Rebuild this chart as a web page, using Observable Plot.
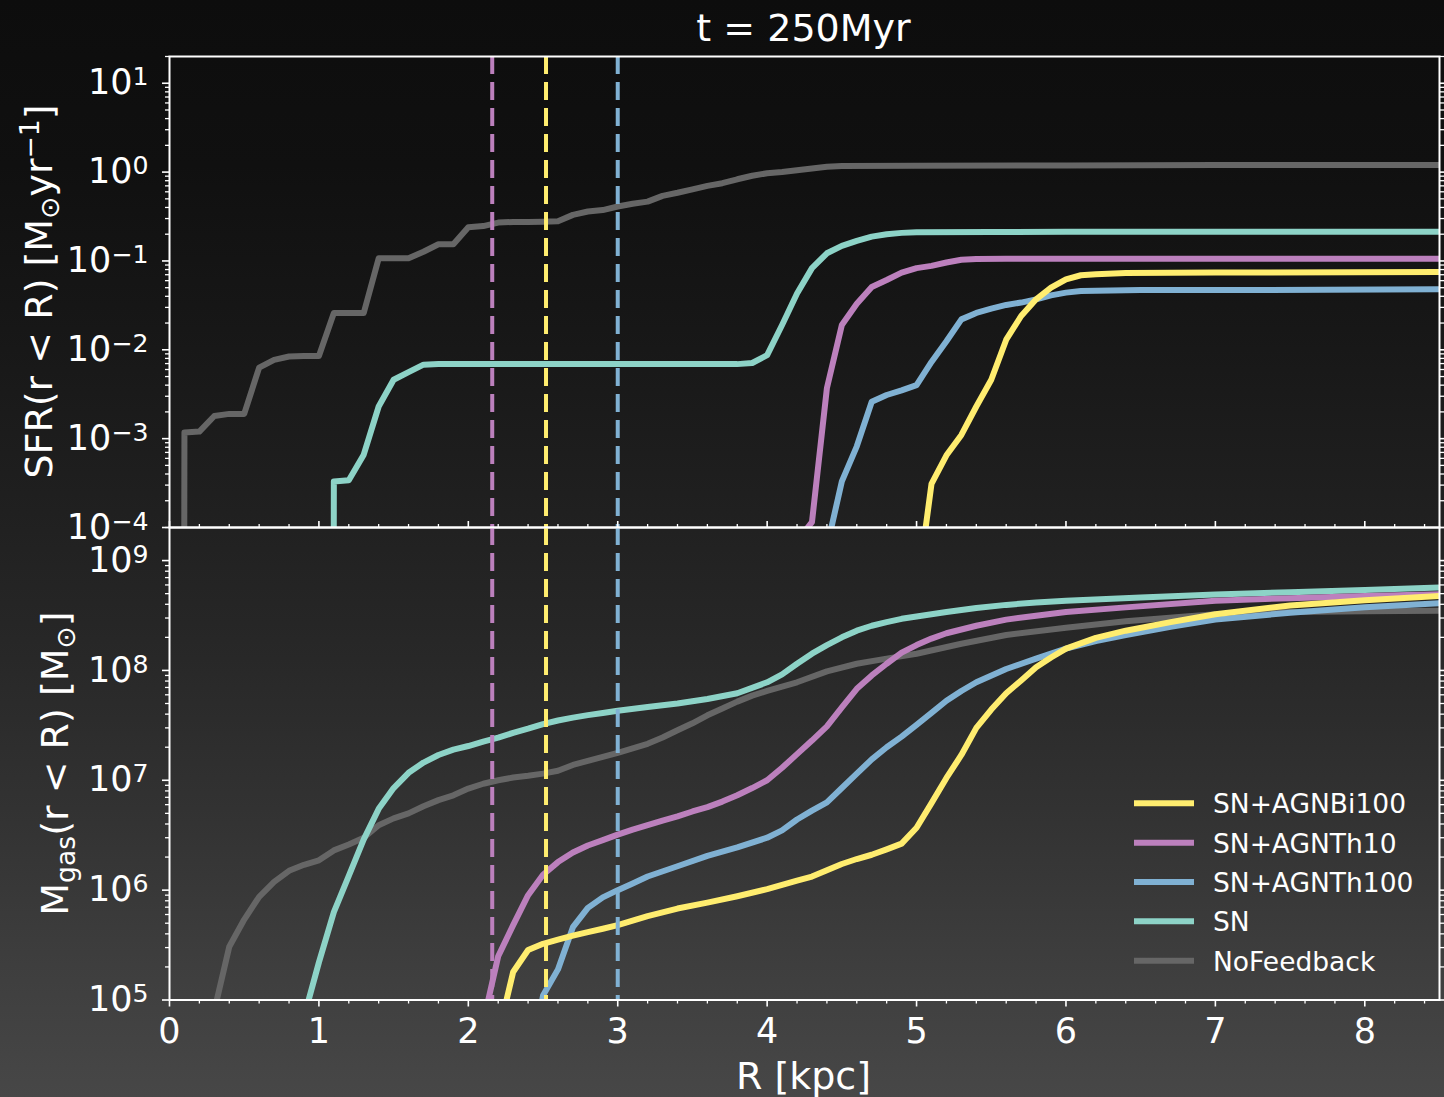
<!DOCTYPE html>
<html>
<head>
<meta charset="utf-8">
<script src="https://cdn.jsdelivr.net/npm/d3@7"></script>
<script src="https://cdn.jsdelivr.net/npm/@observablehq/plot@0.6"></script>
<style>
  html, body { margin:0; padding:0; background:#0d0d0d; }
  #fig { position:relative; width:1444px; height:1097px; overflow:hidden;
    background: linear-gradient(to bottom, #0d0d0d 0%, #101010 15%, #171717 30%, #1f1f1f 45%, #282828 60%, #333333 75%, #3e3e3e 88%, #474747 100%);
    font-family: "DejaVu Sans", sans-serif; }
  .layer { position:absolute; left:0; }
</style>
</head>
<body>
<div id="fig">
  <div id="top" class="layer" style="top:0px;width:1444px"></div>
  <div id="bot" class="layer" style="top:500px;width:1444px"></div>
  <svg id="ov" class="layer" style="top:0px" width="1444" height="1097"></svg>
</div>
<script>
// ---------------- DATA ----------------
const seriesNames  = ["NoFeedback", "SN", "SN+AGNTh100", "SN+AGNTh10", "SN+AGNBi100"];
const seriesColors = ["#666666", "#8dd3c7", "#80b1d3", "#bc80bd", "#ffed6f"];
const legendOrder  = ["SN+AGNBi100", "SN+AGNTh10", "SN+AGNTh100", "SN", "NoFeedback"];
const titleText = "t = 250Myr";

// SFR(r<R) [Msun/yr]  (0 = nothing inside radius)
const sfrR_NoFeedback = [0.0,0.1,0.2,0.3,0.4,0.5,0.6,0.7,0.8,0.9,1.0,1.1,1.2,1.3,1.4,1.5,1.6,1.7,1.8,1.9,2.0,2.1,2.2,2.3,2.4,2.5,2.6,2.7,2.8,2.9,3.0,3.1,3.2,3.3,3.4,3.5,3.6,3.7,3.8,3.9,4.0,4.1,4.2,4.3,4.4,4.5,5.0,6.0,7.0,8.5];
const sfr_NoFeedback  = [0,1.17e-3,1.2e-3,1.8e-3,1.9e-3,1.9e-3,6.3e-3,7.7e-3,8.4e-3,8.5e-3,8.5e-3,0.026,0.026,0.026,0.107,0.107,0.107,0.127,0.154,0.154,0.24,0.247,0.27,0.275,0.275,0.277,0.28,0.33,0.36,0.374,0.41,0.44,0.465,0.54,0.585,0.64,0.70,0.75,0.83,0.91,0.97,1.0,1.05,1.1,1.15,1.17,1.18,1.19,1.2,1.2];
const sfrR_SN = [1.0,1.1,1.2,1.3,1.4,1.5,1.6,1.7,1.8,2.5,3.0,3.5,3.8,3.9,4.0,4.1,4.2,4.3,4.4,4.5,4.6,4.7,4.8,4.9,5.0,5.5,6.0,8.5];
const sfr_SN  = [0,3.3e-4,3.4e-4,6.6e-4,2.3e-3,4.6e-3,5.6e-3,6.8e-3,6.9e-3,6.9e-3,6.9e-3,6.9e-3,6.9e-3,7.1e-3,8.7e-3,0.019,0.043,0.083,0.122,0.148,0.168,0.188,0.2,0.207,0.21,0.212,0.213,0.213];
const sfrR_Th100 = [4.4,4.5,4.6,4.7,4.8,4.9,5.0,5.1,5.2,5.3,5.4,5.5,5.6,5.7,5.8,5.9,6.0,6.1,6.5,7.0,8.5];
const sfr_Th100  = [6e-5,3.3e-4,8.2e-4,2.6e-3,3.1e-3,3.5e-3,4.0e-3,7.3e-3,0.0125,0.022,0.026,0.029,0.032,0.034,0.037,0.041,0.044,0.046,0.047,0.047,0.048];
const sfrR_Th10 = [4.2,4.3,4.4,4.5,4.6,4.7,4.8,4.9,5.0,5.1,5.2,5.3,5.4,5.6,6.0,8.5];
const sfr_Th10  = [7e-5,1.15e-4,3.7e-3,0.019,0.033,0.051,0.061,0.074,0.083,0.088,0.096,0.103,0.105,0.106,0.106,0.106];
const sfrR_Bi100 = [5.0,5.1,5.2,5.3,5.4,5.5,5.6,5.7,5.8,5.9,6.0,6.1,6.2,6.4,7.0,8.5];
const sfr_Bi100  = [1.7e-5,3.1e-4,6.5e-4,1.1e-3,2.3e-3,4.6e-3,0.013,0.024,0.037,0.05,0.062,0.069,0.071,0.073,0.074,0.075];

// Mgas(r<R) [Msun]
const gasR_NoFeedback = [0.3,0.4,0.5,0.6,0.7,0.8,0.9,1.0,1.1,1.2,1.3,1.4,1.5,1.6,1.7,1.8,1.9,2.0,2.1,2.2,2.3,2.4,2.5,2.6,2.7,2.8,2.9,3.0,3.1,3.2,3.3,3.4,3.5,3.6,3.7,3.8,3.9,4.0,4.2,4.4,4.6,4.8,5.0,5.3,5.6,6.0,6.4,6.8,7.0,7.5,8.0,8.5];
const gas_NoFeedback  = [8e4,3.05e5,5.4e5,8.7e5,1.19e6,1.5e6,1.7e6,1.87e6,2.3e6,2.6e6,3.0e6,3.9e6,4.5e6,5.0e6,5.8e6,6.6e6,7.3e6,8.4e6,9.3e6,1.0e7,1.06e7,1.1e7,1.15e7,1.22e7,1.38e7,1.5e7,1.63e7,1.78e7,1.95e7,2.15e7,2.45e7,2.85e7,3.3e7,3.9e7,4.5e7,5.2e7,5.9e7,6.5e7,7.8e7,9.8e7,1.15e8,1.28e8,1.42e8,1.75e8,2.1e8,2.45e8,2.8e8,3.1e8,3.25e8,3.4e8,3.45e8,3.5e8];
const gasR_SN = [0.9,1.0,1.1,1.2,1.3,1.4,1.5,1.6,1.7,1.8,1.9,2.0,2.1,2.2,2.3,2.4,2.5,2.6,2.7,2.8,2.9,3.0,3.2,3.4,3.6,3.8,4.0,4.1,4.2,4.3,4.4,4.5,4.6,4.7,4.8,4.9,5.0,5.2,5.4,5.6,5.8,6.0,6.5,7.0,7.5,8.0,8.5];
const gas_SN  = [7e4,2.2e5,6.3e5,1.35e6,2.9e6,5.5e6,8.5e6,1.17e7,1.45e7,1.7e7,1.9e7,2.05e7,2.25e7,2.45e7,2.7e7,2.95e7,3.25e7,3.5e7,3.72e7,3.92e7,4.1e7,4.3e7,4.65e7,5.0e7,5.5e7,6.2e7,7.8e7,9.2e7,1.15e8,1.42e8,1.7e8,2.0e8,2.3e8,2.55e8,2.75e8,2.95e8,3.1e8,3.4e8,3.7e8,3.95e8,4.15e8,4.3e8,4.6e8,4.9e8,5.15e8,5.4e8,5.7e8];
const gasR_Th100 = [2.4,2.5,2.6,2.7,2.8,2.9,3.0,3.1,3.2,3.4,3.6,3.8,4.0,4.1,4.2,4.3,4.4,4.5,4.6,4.7,4.8,4.9,5.0,5.1,5.2,5.3,5.4,5.6,5.8,6.0,6.2,6.4,6.7,7.0,7.5,8.0,8.5];
const gas_Th100  = [2e4,1.1e5,1.9e5,4.6e5,6.9e5,8.6e5,1.0e6,1.15e6,1.33e6,1.65e6,2.05e6,2.45e6,3.0e6,3.5e6,4.4e6,5.3e6,6.3e6,8.5e6,1.15e7,1.55e7,2.0e7,2.5e7,3.2e7,4.1e7,5.3e7,6.5e7,7.8e7,1.03e8,1.28e8,1.58e8,1.85e8,2.1e8,2.5e8,2.9e8,3.35e8,3.75e8,4.1e8];
const gasR_Th10 = [2.1,2.2,2.3,2.4,2.5,2.6,2.7,2.8,2.9,3.0,3.1,3.2,3.3,3.4,3.5,3.6,3.7,3.8,3.9,4.0,4.1,4.2,4.3,4.4,4.5,4.6,4.7,4.8,4.9,5.0,5.1,5.2,5.4,5.6,5.8,6.0,6.4,7.0,7.5,8.0,8.5];
const gas_Th10  = [6.3e4,2.5e5,4.8e5,9.0e5,1.38e6,1.8e6,2.2e6,2.55e6,2.85e6,3.2e6,3.55e6,3.9e6,4.3e6,4.7e6,5.2e6,5.7e6,6.4e6,7.3e6,8.5e6,1.0e7,1.3e7,1.73e7,2.3e7,3.1e7,4.6e7,6.8e7,9.0e7,1.15e8,1.45e8,1.7e8,1.95e8,2.18e8,2.55e8,2.9e8,3.15e8,3.4e8,3.75e8,4.3e8,4.55e8,4.75e8,4.95e8];
const gasR_Bi100 = [2.2,2.3,2.4,2.5,2.6,2.7,2.8,2.9,3.0,3.2,3.4,3.6,3.8,4.0,4.2,4.3,4.4,4.5,4.6,4.7,4.8,4.9,5.0,5.1,5.2,5.3,5.4,5.5,5.6,5.7,5.8,5.9,6.0,6.2,6.4,6.7,7.0,7.5,8.0,8.5];
const gas_Bi100  = [4.8e4,1.8e5,2.85e5,3.25e5,3.55e5,3.85e5,4.15e5,4.45e5,4.8e5,5.8e5,6.8e5,7.7e5,8.8e5,1.02e6,1.22e6,1.33e6,1.52e6,1.73e6,1.92e6,2.1e6,2.35e6,2.65e6,3.7e6,6.2e6,1.05e7,1.7e7,3.0e7,4.4e7,6.2e7,8.1e7,1.07e8,1.31e8,1.58e8,1.98e8,2.3e8,2.75e8,3.25e8,3.9e8,4.35e8,4.75e8];

// characteristic radii (dashed verticals)
const cutNames = ["SN+AGNTh10", "SN+AGNBi100", "SN+AGNTh100"];
const cutR     = [2.16, 2.52, 3.0];

// axes
const xDomain = [0, 8.5];
const sfrDomain = [1e-4, 20];
const gasDomain = [1e5, 2e9];
const xMajor = [0,1,2,3,4,5,6,7,8];
const sfrMajor = [1e-4,1e-3,1e-2,1e-1,1,10];
const gasMajor = [1e5,1e6,1e7,1e8,1e9];

// ---------------- BUILD ----------------
const sfrData = {
  "NoFeedback": [sfrR_NoFeedback, sfr_NoFeedback],
  "SN": [sfrR_SN, sfr_SN],
  "SN+AGNTh100": [sfrR_Th100, sfr_Th100],
  "SN+AGNTh10": [sfrR_Th10, sfr_Th10],
  "SN+AGNBi100": [sfrR_Bi100, sfr_Bi100]
};
const gasData = {
  "NoFeedback": [gasR_NoFeedback, gas_NoFeedback],
  "SN": [gasR_SN, gas_SN],
  "SN+AGNTh100": [gasR_Th100, gas_Th100],
  "SN+AGNTh10": [gasR_Th10, gas_Th10],
  "SN+AGNBi100": [gasR_Bi100, gas_Bi100]
};
const colorOf = Object.fromEntries(seriesNames.map((n,i)=>[n, seriesColors[i]]));
const FLOOR = 1e-100; // log-scale clipping of zeros (matplotlib "clip")
function rowsOf(tbl, name){
  const [rs, vs] = tbl[name];
  return rs.map((r,i)=>({R:r, v:Math.max(vs[i], FLOOR)}));
}
function minorLog(dom){
  const out=[];
  for(let e=Math.floor(Math.log10(dom[0])); e<=Math.ceil(Math.log10(dom[1])); e++)
    for(let m=2;m<=9;m++){ const v=m*10**e; if(v>=dom[0]&&v<=dom[1]) out.push(v); }
  return out;
}
const xMinor = d3.range(0, 8.5001, 0.2).map(v=>+v.toFixed(1)).filter(v=>Math.abs(v-Math.round(v))>1e-6);
const fmtPow = d => { const e = Math.round(Math.log10(d)); return "10^" + (e<0 ? "\u2212"+(-e) : String(e)); };

const W = 1444, LW = 6;
const tickStyle = {stroke:"#fff", strokeWidth:1.6};

function curveMarks(tbl){
  return seriesNames.map(n => Plot.line(rowsOf(tbl, n), {x:"R", y:"v", stroke:colorOf[n], strokeWidth:LW, strokeLinejoin:"round", clip:true}));
}
function cutMarks(){
  return cutNames.map((n,i)=>Plot.ruleX([cutR[i]], {stroke:colorOf[n], strokeWidth:4, strokeDasharray:"18,8"}));
}
function yAxes(major, minor){
  return [
    Plot.axisY({anchor:"left", ticks:major, tickSize:7, tickPadding:14, tickFormat:fmtPow, fill:"#fff", ...tickStyle, label:null, fontSize:35}),
    Plot.axisY({anchor:"left", ticks:minor, tickSize:4, fill:"none", stroke:"#fff", strokeWidth:1.3, label:null}),
    Plot.axisY({anchor:"right", ticks:major, tickSize:7, fill:"none", ...tickStyle, label:null}),
    Plot.axisY({anchor:"right", ticks:minor, tickSize:4, fill:"none", stroke:"#fff", strokeWidth:1.3, label:null})
  ];
}
const baseStyle = {background:"transparent", color:"#fff", fontFamily:"DejaVu Sans", fontSize:"35px", overflow:"visible", maxWidth:"none"};

const topPlot = Plot.plot({
  width: W, height: 530,
  marginTop: 56, marginBottom: 3, marginLeft: 169, marginRight: 5,
  style: baseStyle,
  x: {domain: xDomain, axis: null},
  y: {type:"log", domain: sfrDomain},
  marks: [
    ...curveMarks(sfrData),
    ...cutMarks(),
    ...yAxes(sfrMajor, minorLog(sfrDomain)),
    Plot.frame({stroke:"#fff", strokeWidth:2})
  ]
});

const botPlot = Plot.plot({
  width: W, height: 597,
  marginTop: 27, marginBottom: 97.5, marginLeft: 169, marginRight: 5,
  style: baseStyle,
  x: {domain: xDomain},
  y: {type:"log", domain: gasDomain},
  marks: [
    ...curveMarks(gasData),
    ...cutMarks(),
    ...yAxes(gasMajor, minorLog(gasDomain)),
    Plot.axisX({anchor:"bottom", ticks:xMajor, tickSize:7, tickPadding:11.5, tickFormat:d=>String(d), fill:"#fff", ...tickStyle, label:null, fontSize:35}),
    Plot.axisX({anchor:"bottom", ticks:xMinor, tickSize:4, fill:"none", stroke:"#fff", strokeWidth:1.3, label:null}),
    Plot.axisX({anchor:"top", ticks:xMajor, tickSize:7, fill:"none", ...tickStyle, label:null}),
    Plot.axisX({anchor:"top", ticks:xMinor, tickSize:4, fill:"none", stroke:"#fff", strokeWidth:1.3, label:null}),
    Plot.frame({stroke:"#fff", strokeWidth:2})
  ]
});

document.getElementById("top").appendChild(topPlot);
document.getElementById("bot").appendChild(botPlot);

function superscriptTicks(svg){
  d3.select(svg).selectAll('g[aria-label="y-axis tick label"] text').each(function(){
    const s = this.textContent;
    const i = s.indexOf("^");
    if (i < 0) return;
    const sel = d3.select(this);
    sel.text(null);
    sel.append("tspan").text(s.slice(0,i));
    sel.append("tspan").attr("font-size","0.72em").attr("dy","-0.36em").text(s.slice(i+1));
  });
}
superscriptTicks(topPlot);
superscriptTicks(botPlot);

// ---------------- TEXT OVERLAY ----------------
const ov = d3.select("#ov").style("pointer-events","none")
  .attr("font-family","DejaVu Sans").attr("fill","#fff");
const FS = 38;
ov.append("text").attr("x",803.5).attr("y",41).attr("text-anchor","middle").attr("font-size",FS).text(titleText);
ov.append("text").attr("x",803.5).attr("y",1089).attr("text-anchor","middle").attr("font-size",FS).text("R [kpc]");

function richText(g, parts){
  const t = g.append("text").attr("text-anchor","middle").attr("font-size",FS);
  let shift = 0;
  for (const p of parts){
    const target = p.sub ? 7 : p.sup ? -13 : 0;
    const ts = t.append("tspan").text(p.t).attr("dy", (target - shift) + "px");
    if (p.sub || p.sup) ts.attr("font-size", FS*0.7);
    shift = target;
  }
  return t;
}
richText(ov.append("g").attr("transform","translate(52,291.5) rotate(-90)"),
  [{t:"SFR(r < R) [M"},{t:"\u2299",sub:true},{t:"yr"},{t:"\u22121",sup:true},{t:"]"}]);
richText(ov.append("g").attr("transform","translate(68,763.5) rotate(-90)"),
  [{t:"M"},{t:"gas",sub:true},{t:"(r < R) [M"},{t:"\u2299",sub:true},{t:"]"}]);

// legend
const legY0 = 803.3, legDY = 39.35;
legendOrder.forEach((n,i)=>{
  const y = legY0 + i*legDY;
  ov.append("line").attr("x1",1134).attr("x2",1194).attr("y1",y).attr("y2",y)
    .attr("stroke",colorOf[n]).attr("stroke-width",6);
  ov.append("text").attr("x",1213).attr("y",y+10).attr("font-size",26.5).text(n);
});
</script>
</body>
</html>
